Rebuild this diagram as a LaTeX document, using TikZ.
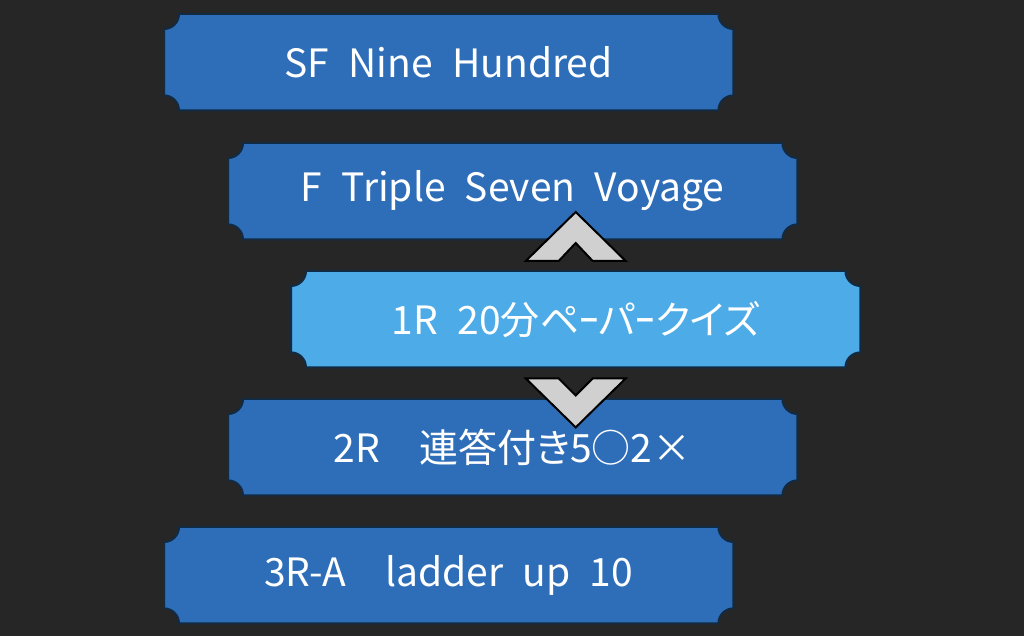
\documentclass[tikz,border=0pt]{standalone}
\usepackage{fontspec}
\setmainfont[WordSpace=2.2,RawFeature=+palt]{Noto Sans CJK JP}
\usetikzlibrary{backgrounds}
\definecolor{bgc}{HTML}{262626}
\definecolor{boxblue}{HTML}{2E6DB7}
\definecolor{boxlight}{HTML}{4DABE8}
\definecolor{edgec}{HTML}{122B42}
\definecolor{chevc}{HTML}{D0D0D0}
\tikzset{
  tagtext/.style={text=white, font=\fontsize{39}{46}\selectfont, inner sep=0pt,
    minimum width=569pt, minimum height=96pt, anchor=north west},
  tagshape/.style={draw=edgec, line width=2pt},
  chevron/.style={fill=chevc, draw=black, line width=2pt, line join=miter},
}
\newcommand\notched[2]{%
  \path[tagshape,fill=#2]
    ([xshift=15pt]#1.north west) -- ([xshift=-15pt]#1.north east)
    arc[start angle=180,end angle=270,radius=15pt]
    -- ([yshift=15pt]#1.south east)
    arc[start angle=90,end angle=180,radius=15pt]
    -- ([xshift=15pt]#1.south west)
    arc[start angle=0,end angle=90,radius=15pt]
    -- ([yshift=-15pt]#1.north west)
    arc[start angle=270,end angle=360,radius=15pt] -- cycle;}
\begin{document}
\begin{tikzpicture}[x=1pt,y=1pt]
\useasboundingbox (0,0) rectangle (1024,636);
\node[tagtext] (b1) at (164,622) {SF Nine Hundred};
\node[tagtext] (b2) at (228,493) {F Triple Seven Voyage};
\node[tagtext] (b3) at (291,365) {1R 20分ペｰパｰクイズ};
\node[tagtext] (b4) at (228,237) {2R　連答付き5○2×};
\node[tagtext] (b5) at (164,109) {3R-A　ladder up 10};
\begin{scope}[on background layer]
  \fill[bgc] (0,0) rectangle (1024,636);
  \notched{b1}{boxblue}
  \notched{b2}{boxblue}
  \notched{b3}{boxlight}
  \notched{b4}{boxblue}
  \notched{b5}{boxblue}
\end{scope}
% up chevron between b3 and b2
\coordinate (cu) at ([yshift=10pt]b3.north);
\path[chevron] (cu) ++(-50,0) -- ++(50,49) -- ++(50,-49) -- ++(-33,0) -- ++(-17,18) -- ++(-17,-18) -- cycle;
% down chevron between b3 and b4
\coordinate (cd) at ([yshift=-11pt]b3.south);
\path[chevron] (cd) ++(-50,0) -- ++(33,0) -- ++(17,-17) -- ++(17,17) -- ++(33,0) -- ++(-50,-49) -- cycle;
\end{tikzpicture}
\end{document}
